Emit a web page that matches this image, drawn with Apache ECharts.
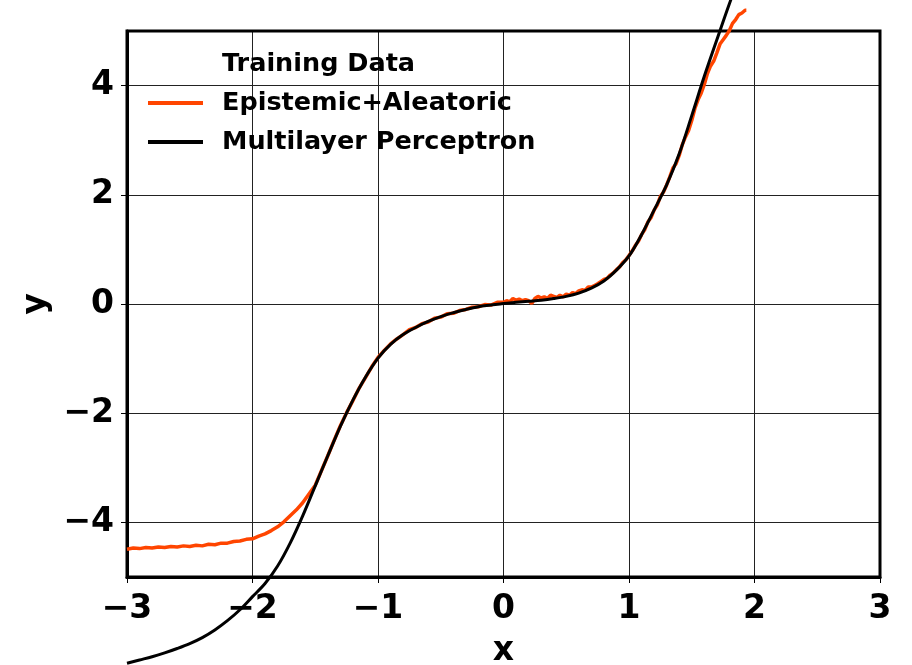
<!DOCTYPE html>
<html>
<head>
<meta charset="utf-8">
<script src="https://cdn.jsdelivr.net/npm/echarts@6/dist/echarts.min.js"></script>
<style>
  html, body { margin: 0; padding: 0; background: #fff; }
  #chart { width: 912px; height: 665px; }
</style>
</head>
<body>
<div id="chart"></div>
<script>
// Uncertainty-aware fit: noisy predictive curve and the MLP fit
const epiX = [
  -3.00, -2.95, -2.90, -2.85, -2.80, -2.75, -2.70, -2.65, -2.60, -2.55,
  -2.50, -2.45, -2.40, -2.35, -2.30, -2.25, -2.20, -2.15, -2.10, -2.05,
  -2.00, -1.95, -1.90, -1.85, -1.80, -1.75, -1.70, -1.65, -1.60, -1.55,
  -1.50, -1.45, -1.40, -1.35, -1.30, -1.25, -1.20, -1.15, -1.10, -1.05,
  -1.00, -0.95, -0.90, -0.85, -0.80, -0.75, -0.70, -0.65, -0.60, -0.55,
  -0.50, -0.45, -0.40, -0.35, -0.30, -0.25, -0.20, -0.15, -0.10, -0.05,
  0.000, 0.025, 0.050, 0.075, 0.100, 0.125, 0.150, 0.175, 0.200, 0.225,
  0.250, 0.275, 0.300, 0.325, 0.350, 0.375, 0.400, 0.425, 0.450, 0.475,
  0.500, 0.525, 0.550, 0.575, 0.600, 0.625, 0.650, 0.675, 0.700, 0.725,
  0.750, 0.775, 0.800, 0.825, 0.850, 0.875, 0.900, 0.925, 0.950, 0.975,
  1.000, 1.025, 1.050, 1.075, 1.100, 1.125, 1.150, 1.175, 1.200, 1.225,
  1.250, 1.275, 1.300, 1.325, 1.350, 1.375, 1.400, 1.425, 1.450, 1.475,
  1.500, 1.525, 1.550, 1.575, 1.600, 1.625, 1.650, 1.675, 1.700, 1.725,
  1.750, 1.775, 1.800, 1.825, 1.850, 1.875, 1.900, 1.925, 1.935
];
const epiY = [
  -4.49, -4.47, -4.48, -4.46, -4.47, -4.45, -4.46, -4.44, -4.45, -4.43,
  -4.44, -4.42, -4.43, -4.40, -4.41, -4.38, -4.38, -4.35, -4.34, -4.31,
  -4.30, -4.25, -4.21, -4.15, -4.08, -3.99, -3.88, -3.77, -3.64, -3.48,
  -3.32, -3.05, -2.78, -2.50, -2.23, -1.99, -1.77, -1.54, -1.35, -1.15,
  -0.98, -0.85, -0.73, -0.64, -0.56, -0.47, -0.43, -0.36, -0.33, -0.26,
  -0.24, -0.18, -0.17, -0.12, -0.10, -0.06, -0.05, -0.01, -0.02,  0.03,
   0.03,  0.06,  0.04,  0.10,  0.07,  0.09,  0.06,  0.08,  0.06,  0.01,
   0.10,  0.14,  0.11,  0.13,  0.10,  0.16,  0.14,  0.12,  0.16,  0.13,
   0.18,  0.16,  0.21,  0.19,  0.24,  0.26,  0.25,  0.31,  0.31,  0.34,
   0.37,  0.41,  0.45,  0.47,  0.53,  0.57,  0.63,  0.68,  0.76,  0.81,
   0.89,  0.97,  1.07,  1.15,  1.27,  1.36,  1.50,  1.58,  1.72,  1.81,
   1.97,  2.05,  2.18,  2.33,  2.49,  2.57,  2.72,  2.92,  3.06,  3.18,
   3.36,  3.58,  3.74,  3.86,  4.02,  4.22,  4.36,  4.45,  4.60,  4.76,
   4.84,  4.92,  5.01,  5.14,  5.21,  5.30,  5.33,  5.38,  5.38
];

const mlpX = [
  -3.0, -2.9, -2.8, -2.7, -2.6, -2.5, -2.4, -2.3, -2.2, -2.1,
  -2.0, -1.9, -1.8, -1.7, -1.6, -1.5, -1.4, -1.3, -1.2, -1.1,
  -1.0, -0.9, -0.8, -0.7, -0.6, -0.5, -0.4, -0.3, -0.2, -0.1,
   0.0,  0.1,  0.2,  0.3,  0.4,  0.5,  0.6,  0.7,  0.8,  0.9,
   1.0,  1.1,  1.2,  1.3,  1.4,  1.5,  1.6,  1.7,  1.8,  1.9
];
const mlpY = [
  -6.58, -6.52, -6.46, -6.39, -6.31, -6.22, -6.11, -5.97, -5.80, -5.60,
  -5.36, -5.12, -4.80, -4.38, -3.88, -3.33, -2.78, -2.24, -1.76, -1.34,
  -0.99, -0.74, -0.56, -0.43, -0.32, -0.23, -0.16, -0.10, -0.05, -0.02,
   0.01,  0.03,  0.05,  0.07,  0.10,  0.14,  0.20,  0.29,  0.42,  0.62,
   0.88,  1.27,  1.72,  2.18,  2.75,  3.45,  4.17,  4.84,  5.50,  6.12
];

// The training points are listed in the legend but not plotted
const trainX = [];
const trainY = [];

const xTicks = [-3, -2, -1, 0, 1, 2, 3];
const seriesNames = ['Training Data', 'Epistemic+Aleatoric', 'Multilayer Perceptron'];

const zip = (xs, ys) => xs.map((x, i) => [x, ys[i]]);
const FONT = 'DejaVu Sans';
const minusFmt = v => String(v).replace('-', '\u2212');

const chart = echarts.init(document.getElementById('chart'), null, { renderer: 'canvas' });

chart.setOption({
  animation: false,
  backgroundColor: '#ffffff',
  grid: {
    left: 127, right: 32, top: 31, bottom: 88,
    outerBoundsMode: 'none', containLabel: false,
    show: true, borderColor: '#000', borderWidth: 3, backgroundColor: 'transparent',
    z: 3
  },
  legend: {
    orient: 'vertical',
    left: 148, top: 51, padding: 0,
    itemWidth: 55, itemHeight: 4, itemGap: 13,
    textStyle: {
      fontFamily: FONT, fontWeight: 'bold', fontSize: 25.5, color: '#000',
      lineHeight: 25, padding: [0, 0, 0, 14]
    },
    data: [
      { name: seriesNames[0], icon: 'none' },
      { name: seriesNames[1], icon: 'rect' },
      { name: seriesNames[2], icon: 'rect' }
    ],
    selectedMode: false
  },
  xAxis: {
    type: 'value', min: xTicks[0], max: xTicks[xTicks.length - 1], interval: 1,
    name: 'x', nameLocation: 'middle', nameGap: 58,
    nameTextStyle: { fontFamily: FONT, fontWeight: 'bold', fontSize: 33, color: '#000' },
    axisLine: { show: true, onZero: false, lineStyle: { color: '#000', width: 3 } },
    axisTick: { show: true, length: 6, lineStyle: { color: '#000', width: 1 } },
    axisLabel: {
      margin: 16, fontFamily: FONT, fontWeight: 'bold', fontSize: 33, color: '#000',
      formatter: minusFmt
    },
    splitLine: { show: true, lineStyle: { color: '#222', width: 1 } }
  },
  yAxis: {
    type: 'value', min: -5, max: 5, splitNumber: 5,
    name: 'y', nameLocation: 'middle', nameGap: 74, nameRotate: 90,
    nameTextStyle: { fontFamily: FONT, fontWeight: 'bold', fontSize: 33, color: '#000' },
    axisLine: { show: true, onZero: false, lineStyle: { color: '#000', width: 3 } },
    axisTick: { show: true, length: 6, lineStyle: { color: '#000', width: 1 } },
    axisLabel: {
      margin: 13, fontFamily: FONT, fontWeight: 'bold', fontSize: 33, color: '#000',
      showMinLabel: false, showMaxLabel: false,
      formatter: minusFmt
    },
    splitLine: { show: true, lineStyle: { color: '#222', width: 1 } }
  },
  series: [
    {
      name: seriesNames[0], type: 'scatter', data: zip(trainX, trainY),
      itemStyle: { color: '#1f77b4' }, symbolSize: 4
    },
    {
      name: seriesNames[1], type: 'line', data: zip(epiX, epiY),
      showSymbol: false, clip: false, z: 4,
      itemStyle: { color: '#ff4500' },
      lineStyle: { color: '#ff4500', width: 3.5 }
    },
    {
      name: seriesNames[2], type: 'line', data: zip(mlpX, mlpY),
      showSymbol: false, clip: false, smooth: 0.35, z: 5,
      itemStyle: { color: '#000' },
      lineStyle: { color: '#000', width: 3 }
    }
  ]
});
</script>
</body>
</html>
